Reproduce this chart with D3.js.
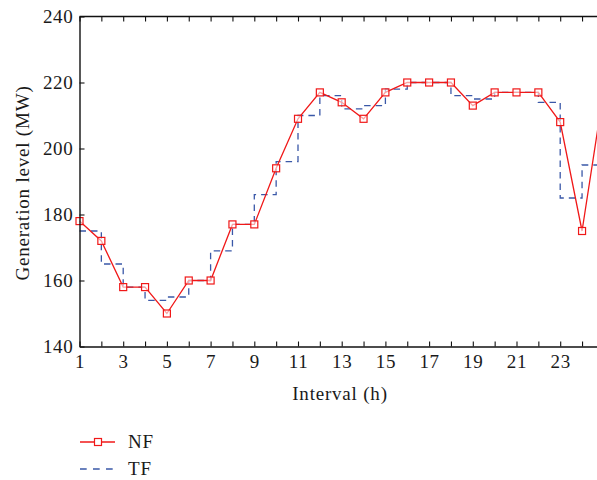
<!DOCTYPE html>
<html><head><meta charset="utf-8">
<script src="https://cdn.jsdelivr.net/npm/d3@7"></script>
<style>
html,body{margin:0;padding:0;background:#fff;}
text{font-family:"Liberation Serif","Times New Roman",serif;fill:#1a1a1a;}
</style></head>
<body>
<svg id="chart" width="597" height="480"></svg>
<script>
const intervals = [1,2,3,4,5,6,7,8,9,10,11,12,13,14,15,16,17,18,19,20,21,22,23,24,25];
const nfValues = [178,172,158,158,150,160,160,177,177,194,209,217,214,209,217,220,220,220,213,217,217,217,208,175,218];
const tfValues = [175,165,158,154,155,160,169,177,186,196,210,216,212,213,218,220,220,216,215,217,217,214,185,195,195];
const xTickLabels = [1,3,5,7,9,11,13,15,17,19,21,23];
const yTicks = [140,160,180,200,220,240];
const seriesNames = ["NF","TF"];

(function(){
const svg = d3.select("#chart");
const mLeft = 79.5, mTop = 16.5, mBottom = 346.5, hourW = 21.85;
const x = d3.scaleLinear().domain([1,25]).range([mLeft, mLeft + 24*hourW]);
const y = d3.scaleLinear().domain([140,240]).range([mBottom, mTop]);

const red = "#f01818", blue = "#3a58a8";

// TF step line
const tfData = intervals.map((h,i)=>({h, v: tfValues[i]}));
svg.append("path")
  .datum(tfData)
  .attr("fill","none").attr("stroke",blue).attr("stroke-width",1.3)
  .attr("stroke-dasharray","6.5,5")
  .attr("d", d3.line().x(d=>x(d.h)).y(d=>y(d.v)).curve(d3.curveStepAfter));

// NF line
const nfData = intervals.map((h,i)=>({h, v: nfValues[i]}));
svg.append("path")
  .datum(nfData)
  .attr("fill","none").attr("stroke",red).attr("stroke-width",1.3)
  .attr("d", d3.line().x(d=>x(d.h)).y(d=>y(d.v)));
svg.selectAll("rect.nf").data(nfData).enter().append("rect")
  .attr("class","nf")
  .attr("x", d=>x(d.h)-3.5).attr("y", d=>y(d.v)-3.5)
  .attr("width",7).attr("height",7)
  .attr("fill","#fff").attr("fill-opacity",0.6).attr("stroke",red).attr("stroke-width",1.2);

// axes
const allTicks = d3.range(1,26);
const xb = svg.append("g").attr("transform",`translate(0,${mBottom})`)
  .call(d3.axisBottom(x).tickValues(allTicks).tickSizeInner(-5).tickSizeOuter(0)
    .tickFormat(d=> xTickLabels.includes(d) ? d : ""));
xb.selectAll(".tick text").attr("y",8).attr("dy","0.71em");
const xt = svg.append("g").attr("transform",`translate(0,${mTop})`)
  .call(d3.axisTop(x).tickValues(allTicks).tickSizeInner(-5).tickSizeOuter(0).tickFormat(""));
const yl = svg.append("g").attr("transform",`translate(${mLeft},0)`)
  .call(d3.axisLeft(y).tickValues(yTicks).tickSizeInner(-5).tickSizeOuter(0));
yl.selectAll(".tick text").attr("x",-6);
[xb,xt,yl].forEach(g=>{
  g.select(".domain").attr("stroke","#111").attr("stroke-width",1.4);
  g.selectAll(".tick line").attr("stroke","#111").attr("stroke-width",1.1);
  g.selectAll(".tick text").attr("font-family","Liberation Serif, serif").attr("font-size",19)
    .attr("letter-spacing","0.7px").attr("fill","#1a1a1a");
});
xt.select(".domain").attr("d",`M${mLeft},0H${x(25)}`);

// axis labels
svg.append("text").attr("transform","translate(29,183) rotate(-90)")
  .attr("text-anchor","middle").attr("font-size",19).attr("letter-spacing","0.8px")
  .text("Generation level (MW)");
svg.append("text").attr("x",340).attr("y",400).attr("text-anchor","middle")
  .attr("font-size",19).attr("letter-spacing","0.8px").text("Interval (h)");

// legend
const lg = svg.append("g");
lg.append("line").attr("x1",80).attr("x2",115).attr("y1",442).attr("y2",442)
  .attr("stroke",red).attr("stroke-width",1.3);
lg.append("rect").attr("x",94.5).attr("y",438.5).attr("width",7).attr("height",7)
  .attr("fill","#fff").attr("stroke",red).attr("stroke-width",1.2);
lg.append("text").attr("x",128).attr("y",448).attr("font-size",19).attr("letter-spacing","0.8px").text(seriesNames[0]);
lg.append("line").attr("x1",80).attr("x2",115).attr("y1",469).attr("y2",469)
  .attr("stroke",blue).attr("stroke-width",1.3).attr("stroke-dasharray","6.7,6.3");
lg.append("text").attr("x",128).attr("y",475).attr("font-size",19).attr("letter-spacing","0.8px").text(seriesNames[1]);
})();
</script>
</body></html>
